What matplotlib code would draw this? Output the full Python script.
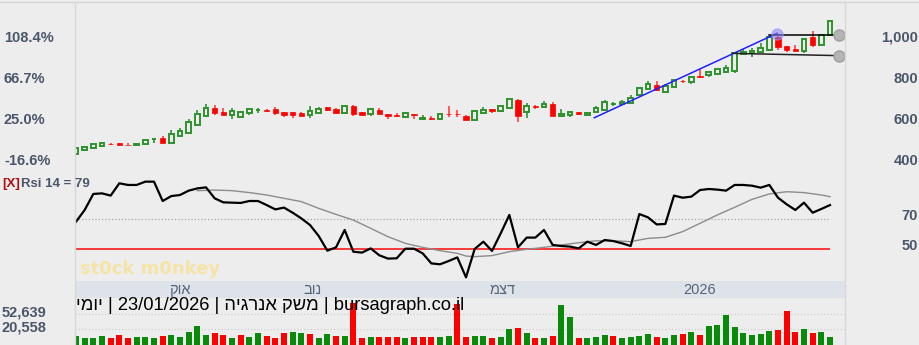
import matplotlib
matplotlib.use("Agg")
import matplotlib.pyplot as plt
from matplotlib.lines import Line2D
from matplotlib.transforms import offset_copy

W, H = 920, 345

# daily candles
opens = [434, 454, 465, 473, 484, 486, 480, 476, 481, 505, 514, 490, 522, 538, 576, 620, 657, 639, 624, 616,
         636, 647, 649, 652, 639, 639, 634, 623, 634, 662, 654, 634, 670, 639, 631, 649, 629, 622, 613, 629,
         604, 609, 603, 630, 629, 620, 602, 634, 654, 644, 660, 698, 638, 666, 665, 678, 618, 623, 637, 625,
         640, 647, 677, 676, 683, 722, 753, 769, 737, 762, 791, 785, 815, 818, 826, 834, 840, 922, 925, 932,
         941, 1006, 961, 945, 935, 1003, 967, 1013]
highs = [466, 470, 484, 494, 490, 488, 490, 487, 504, 514, 523, 551, 561, 603, 649, 677, 673, 659, 657, 643,
         655, 657, 652, 665, 641, 641, 637, 668, 665, 664, 657, 671, 675, 641, 657, 657, 631, 634, 636, 631,
         624, 619, 631, 668, 650, 625, 647, 665, 656, 670, 704, 700, 683, 675, 693, 686, 654, 645, 639, 639,
         670, 696, 689, 699, 722, 761, 790, 790, 778, 797, 797, 814, 847, 838, 850, 867, 931, 948, 951, 974,
         1009, 1008, 963, 967, 1000, 1036, 1016, 1087]
lows = [431, 451, 463, 470, 476, 476, 477, 473, 479, 490, 487, 487, 516, 535, 573, 617, 624, 624, 603, 613,
        624, 636, 640, 624, 616, 611, 618, 611, 631, 642, 631, 631, 620, 622, 620, 628, 606, 613, 610, 606,
        601, 598, 600, 616, 613, 600, 599, 631, 636, 641, 654, 592, 611, 655, 662, 618, 615, 617, 624, 622,
        637, 644, 670, 673, 680, 719, 750, 743, 734, 759, 782, 775, 806, 810, 823, 831, 830, 919, 909, 929,
        938, 941, 930, 935, 925, 958, 964, 1010]
closes = [462, 467, 481, 488, 482, 479, 478, 484, 502, 508, 490, 530, 545, 589, 629, 660, 633, 626, 645, 640,
          652, 650, 643, 636, 623, 626, 621, 642, 655, 649, 634, 668, 628, 626, 652, 631, 620, 620, 633, 624,
          610, 607, 628, 628, 627, 602, 644, 650, 642, 667, 701, 621, 670, 664, 680, 621, 631, 640, 628, 636,
          659, 686, 680, 689, 709, 758, 776, 746, 766, 794, 789, 811, 809, 834, 847, 854, 928, 930, 935, 950,
          1006, 958, 941, 938, 997, 967, 1013, 1084]
volumes = [4900, 1900, 1900, 5600, 1900, 7700, 1900, 3400, 3400, 1900, 4900, 7700, 3400, 14100, 27000, 7700,
           12000, 7700, 1900, 7700, 3400, 12000, 5600, 1900, 12000, 14100, 12000, 9900, 1900, 9900, 5600, 5600,
           76200, 1900, 3400, 3400, 3400, 3400, 1900, 3400, 3400, 3400, 3400, 5600, 75100, 3400, 5600, 5600,
           1300, 3400, 20600, 22700, 12000, 1300, 1300, 5600, 71900, 46200, 300, 1300, 3400, 7700, 5600, 1300,
           3400, 5600, 9900, 3400, 1300, 7700, 9900, 14100, 7700, 27000, 29100, 50500, 24800, 12000, 7700, 9900,
           16300, 18400, 59100, 14100, 20600, 12000, 14100, 3400]
vol_dir = ("GGGGRRRGGGRGGGGGRRGRGGRRRGGRGGRGRRGRRRGRRRGGR"
           "RGGRGGRGRGRGGRGGGRGGGGRGGRGRGGGGGGGGRRRGRGG")

rsi = [68.2, 76.0, 86.7, 87.1, 85.6, 93.8, 92.7, 92.7, 94.9, 94.9, 82.0, 85.3, 86.0, 88.9, 90.4, 91.1,
       83.8, 81.1, 80.9, 80.7, 82.0, 82.0, 79.3, 76.4, 77.6, 74.2, 70.4, 66.0, 58.7, 48.9, 51.1, 62.7,
       48.2, 47.6, 50.4, 45.8, 43.6, 43.8, 50.2, 50.2, 47.1, 40.4, 39.8, 42.0, 44.4, 31.1, 50.0, 54.9,
       48.7, 60.4, 72.7, 51.1, 57.6, 57.6, 62.7, 52.7, 52.0, 51.6, 50.4, 54.9, 52.7, 56.0, 55.3, 53.8,
       52.0, 73.3, 71.1, 66.4, 66.7, 85.6, 84.2, 84.9, 89.3, 90.0, 89.6, 88.9, 92.7, 92.7, 92.2, 90.9,
       92.7, 84.2, 79.8, 76.0, 80.9, 74.2, 76.7, 79.3]
rsi_ma_x = [14, 16, 18, 20, 22, 24, 26, 28, 30, 32, 34, 36, 38, 40, 42, 44, 45, 46, 48, 50, 52, 54, 56,
            58, 60, 62, 64, 66, 68, 70, 72, 74, 76, 78, 80, 82, 84, 86, 87]
rsi_ma = [88.9, 89.3, 88.9, 87.6, 86.0, 83.8, 81.6, 77.1, 73.1, 69.3, 63.8, 58.2, 53.8, 51.1, 48.9, 47.1,
          45.3, 44.9, 45.6, 48.2, 49.8, 51.1, 52.7, 54.2, 55.5, 55.5, 54.9, 57.1, 57.8, 61.6, 67.1, 72.7,
          77.8, 83.1, 86.7, 88.2, 87.6, 86.0, 84.9]

price_ticks = [1000, 800, 600, 400]
price_labels = ["1,000", "800", "600", "400"]
pct_labels = ["108.4%", "66.7%", "25.0%", "-16.6%"]
rsi_ticks = [70, 50]
vol_ticks = [52639, 20558]
month_names = ["אוק", "נוב", "דצמ", "2026"]
month_pos = [12.0, 27.3, 49.2, 72.0]

trend_x, trend_y = [59.8, 80.9], [611, 1023]
level1_x, level1_y = [80.0, 88.0], [1015, 1015]
level2_x, level2_y = [75.8, 88.0], [925, 914]

BG = "#ededed"
GREEN = "#2f922f"
VGREEN = "#0a8a0a"
RED = "#ff0000"
LABEL = "#4a566a"
XLIM = (-0.115, 88.73)


def box(x0, y0, x1, y1):
    return [x0 / W, 1 - y1 / H, (x1 - x0) / W, (y1 - y0) / H]


def vis(s):
    # matplotlib has no bidi support, so hebrew words are reversed for display
    return s[::-1]


plt.rcParams["font.family"] = ["Liberation Sans", "DejaVu Sans"]
fig = plt.figure(figsize=(W / 100, H / 100), dpi=100, facecolor=BG)
n = len(closes)

# price panel
ax = fig.add_axes(box(75, 2, 845, 170))
ax.set_xlim(XLIM)
ax.set_ylim(356.1, 1175.6)
ax.axis("off")
for i in range(n):
    o, c = opens[i], closes[i]
    up = c >= o
    ax.vlines(i, lows[i], highs[i], color=GREEN if up else "#ff4040", lw=1.2, zorder=2)
    lo, hi = min(o, c), max(o, c)
    ax.bar(i, max(hi - lo, 1.5), bottom=lo, width=0.55 if up else 0.62,
           facecolor=BG if up else RED, edgecolor=GREEN if up else RED,
           linewidth=1.4 if up else 0.5, zorder=3)
ax.plot(trend_x, trend_y, color="#1f1fff", lw=1.1, zorder=4)
ax.plot(level1_x, level1_y, color="black", lw=1.1, zorder=4)
ax.plot(level2_x, level2_y, color="#222222", lw=1.1, zorder=4)
ax.plot(trend_x[1], trend_y[1] - 3, "o", ms=8, mfc=(0.5, 0.5, 1, 0.55), mec=(0.6, 0.6, 1, 0.6), zorder=5)
ax.plot([level1_x[1], level2_x[1]], [level1_y[1], level2_y[1]], "o", ms=8,
        mfc="#b4b4b4", mec="#a0a0a0", zorder=5)
ytr = ax.get_yaxis_transform()
for p, lab, pct in zip(price_ticks, price_labels, pct_labels):
    ax.text((918 - 75) / 770, p, lab, transform=ytr, ha="right", va="center",
            fontsize=10.5, fontweight="bold", color=LABEL)
    ax.text((4 - 75) / 770, p, pct, transform=ytr, ha="left", va="center",
            fontsize=10.5, fontweight="bold", color=LABEL)

# rsi panel
rax = fig.add_axes(box(75, 170, 845, 281))
rax.set_xlim(XLIM)
rax.set_ylim(28.67, 102.67)
rax.axis("off")
rax.hlines(70, XLIM[0], n - 1, colors="#a8a8a8", linestyles=":", lw=0.9)
rax.hlines(50, XLIM[0], n - 1, colors="#ff2a2a", lw=1.3)
rax.plot(rsi_ma_x, rsi_ma, color="#8c8c8c", lw=1.0)
rax.plot(range(n), rsi, color="black", lw=1.6)
rtr = offset_copy(rax.get_yaxis_transform(), fig=fig, y=3, units="dots")
for v in rsi_ticks:
    rax.text((918 - 75) / 770, v, str(v), transform=rtr, ha="right", va="center",
             fontsize=10.5, fontweight="bold", color=LABEL)
fig.text(2 / W, 1 - 184 / H, "[X]", color="#b01010", fontsize=9.5, fontweight="bold", va="center")
fig.text(21 / W, 1 - 184 / H, "Rsi 14 = %d" % round(rsi[-1]), color=LABEL, fontsize=9.5,
         fontweight="bold", va="center")
fig.text(150 / W, 1 - 269 / H, "st0ck m0nkey", color="#f5e4a6", fontsize=13, fontweight="bold",
         family="DejaVu Sans", ha="center", va="center")

# date band
dax = fig.add_axes(box(75, 281, 845, 298))
dax.set_facecolor("#dee3ea")
dax.set_xlim(XLIM)
dax.set_ylim(0, 1)
dax.set_xticks([])
dax.set_yticks([])
for s in dax.spines.values():
    s.set_visible(False)
for name, pos in zip(month_names, month_pos):
    txt = name if name.isdigit() else vis(name)
    dax.text(pos, 0.45, txt, ha="center", va="center", fontsize=10.5, color="#56657a")

# volume panel
VMIN, VMAX = -13666, 86867
vax = fig.add_axes(box(75, 298, 845, 345))
vax.set_xlim(XLIM)
vax.set_ylim(VMIN, VMAX)
vax.axis("off")
vax.hlines(vol_ticks, XLIM[0], XLIM[1], colors="#cfcfcf", linestyles=":", lw=0.9, zorder=0)
vax.bar(range(n), [v - VMIN for v in volumes], bottom=VMIN, width=0.7,
        color=[VGREEN if d == "G" else RED for d in vol_dir], zorder=2)
vtr = offset_copy(vax.get_yaxis_transform(), fig=fig, y=2, units="dots")
for v in vol_ticks:
    vax.text((2 - 75) / 770, v, f"{v:,}", transform=vtr, ha="left", va="center",
             fontsize=10.5, fontweight="bold", color=LABEL)

title = vis("יומי") + " | 23/01/2026 | " + vis("משק אנרגיה") + " | bursagraph.co.il"
fig.text(76 / W, 1 - 306 / H, title, ha="left", va="center", fontsize=13.2, color="black", zorder=10)

# frame lines
fig.add_artist(Line2D([0, 1], [1 - 1.5 / H] * 2, color="#d4d4d4", lw=1))
for xp in (75, 845):
    fig.add_artist(Line2D([xp / W] * 2, [0, 1 - 2 / H], color="#d8d8d8", lw=1))

fig.savefig("out.png", dpi=100, facecolor=BG)
